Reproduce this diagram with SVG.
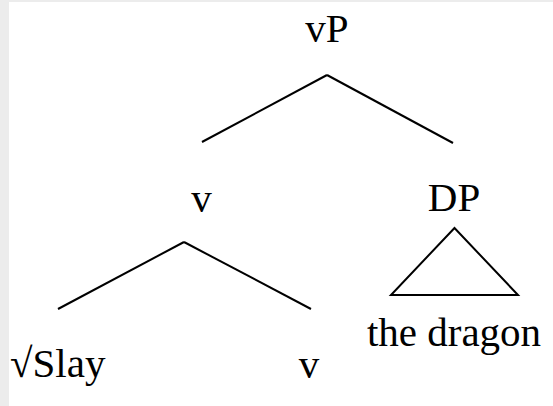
<svg xmlns="http://www.w3.org/2000/svg" width="553" height="406" viewBox="0 0 553 406">
<style>
text{font-family:"Liberation Serif","Times New Roman",serif;font-size:41px;fill:#000}
.e{stroke:#000;stroke-width:2;fill:none;stroke-linecap:butt}
</style>
<rect x="0" y="0" width="553" height="406" fill="#ececec"/>
<rect x="9" y="2" width="544" height="404" fill="#ffffff"/>
<g id="connectors">
<line class="e" x1="327" y1="75" x2="202" y2="142"/>
<line class="e" x1="327" y1="75" x2="453" y2="143"/>
<line class="e" x1="184" y1="242" x2="58" y2="309"/>
<line class="e" x1="184" y1="242" x2="311" y2="309"/>
<polygon class="e" points="454.5,228 391,295 518,295"/>
</g>
<g id="node-vP"><text x="327" y="42" text-anchor="middle">vP</text></g>
<g id="node-v"><text x="201.5" y="212" text-anchor="middle">v</text></g>
<g id="node-DP"><text x="454" y="211" text-anchor="middle">DP</text></g>
<g id="node-the-dragon"><text x="454" y="346" text-anchor="middle">the dragon</text></g>
<g id="node-slay"><text x="10" y="377">√Slay</text></g>
<g id="node-v2"><text x="309" y="378" text-anchor="middle">v</text></g>
</svg>
